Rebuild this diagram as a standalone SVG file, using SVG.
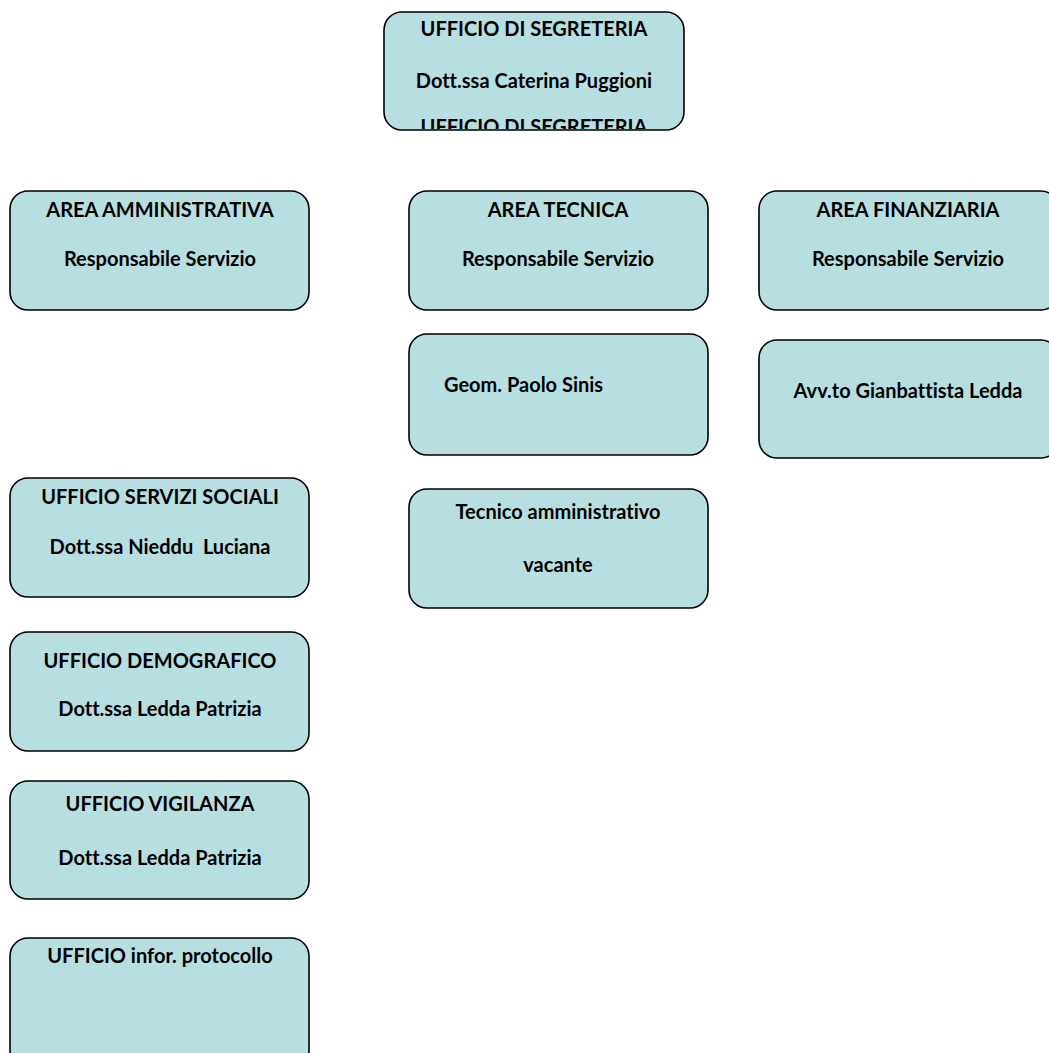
<svg xmlns="http://www.w3.org/2000/svg" width="1049" height="1053" viewBox="0 0 1049 1053">
<style>
.box{fill:#b7dfe2;stroke:#000;stroke-width:1.6}
text{font-family:Lato,"Liberation Sans",sans-serif;font-weight:bold;font-size:20px;fill:#000;text-anchor:middle;dominant-baseline:central;white-space:pre;font-variant-ligatures:none}
</style>
<defs>
<clipPath id="c0"><rect x="384" y="12" width="300" height="117" rx="18"/></clipPath>
</defs>
<rect width="1049" height="1053" fill="#fff"/>
<g id="segreteria">
<rect class="box" x="384" y="12" width="300" height="118" rx="18"/>
<g clip-path="url(#c0)">
<text x="534" y="28">UFFICIO DI SEGRETERIA</text>
<text x="534" y="80">Dott.ssa Caterina Puggioni</text>
<text x="534" y="126">UFFICIO DI SEGRETERIA</text>
</g>
</g>
<g id="area-amministrativa">
<rect class="box" x="10" y="191" width="299" height="119" rx="18"/>
<text x="160" y="209">AREA AMMINISTRATIVA</text>
<text x="160" y="258">Responsabile Servizio</text>
</g>
<g id="area-tecnica">
<rect class="box" x="409" y="191" width="299" height="119" rx="18"/>
<text x="558" y="209">AREA TECNICA</text>
<text x="558" y="258">Responsabile Servizio</text>
</g>
<g id="area-finanziaria">
<rect class="box" x="759" y="191" width="300" height="119" rx="18"/>
<text x="908" y="209">AREA FINANZIARIA</text>
<text x="908" y="258">Responsabile Servizio</text>
</g>
<g id="geom">
<rect class="box" x="409" y="334" width="299" height="121" rx="18"/>
<text x="444" y="384" style="text-anchor:start">Geom. Paolo Sinis</text>
</g>
<g id="avvocato">
<rect class="box" x="759" y="340" width="300" height="118" rx="18"/>
<text x="908" y="390">Avv.to Gianbattista Ledda</text>
</g>
<g id="tecnico">
<rect class="box" x="409" y="489" width="299" height="119" rx="18"/>
<text x="558" y="511">Tecnico amministrativo</text>
<text x="558" y="564">vacante</text>
</g>
<g id="servizi-sociali">
<rect class="box" x="10" y="478" width="299" height="119" rx="18"/>
<text x="160" y="496">UFFICIO SERVIZI SOCIALI</text>
<text x="160" y="546">Dott.ssa Nieddu  Luciana</text>
</g>
<g id="demografico">
<rect class="box" x="10" y="632" width="299" height="119" rx="18"/>
<text x="160" y="660">UFFICIO DEMOGRAFICO</text>
<text x="160" y="708">Dott.ssa Ledda Patrizia</text>
</g>
<g id="vigilanza">
<rect class="box" x="10" y="781" width="299" height="118" rx="18"/>
<text x="160" y="803">UFFICIO VIGILANZA</text>
<text x="160" y="857">Dott.ssa Ledda Patrizia</text>
</g>
<g id="protocollo">
<rect class="box" x="10" y="938" width="299" height="130" rx="18"/>
<text x="160" y="955">UFFICIO infor. protocollo</text>
</g>
<g id="connectors"></g>
</svg>
